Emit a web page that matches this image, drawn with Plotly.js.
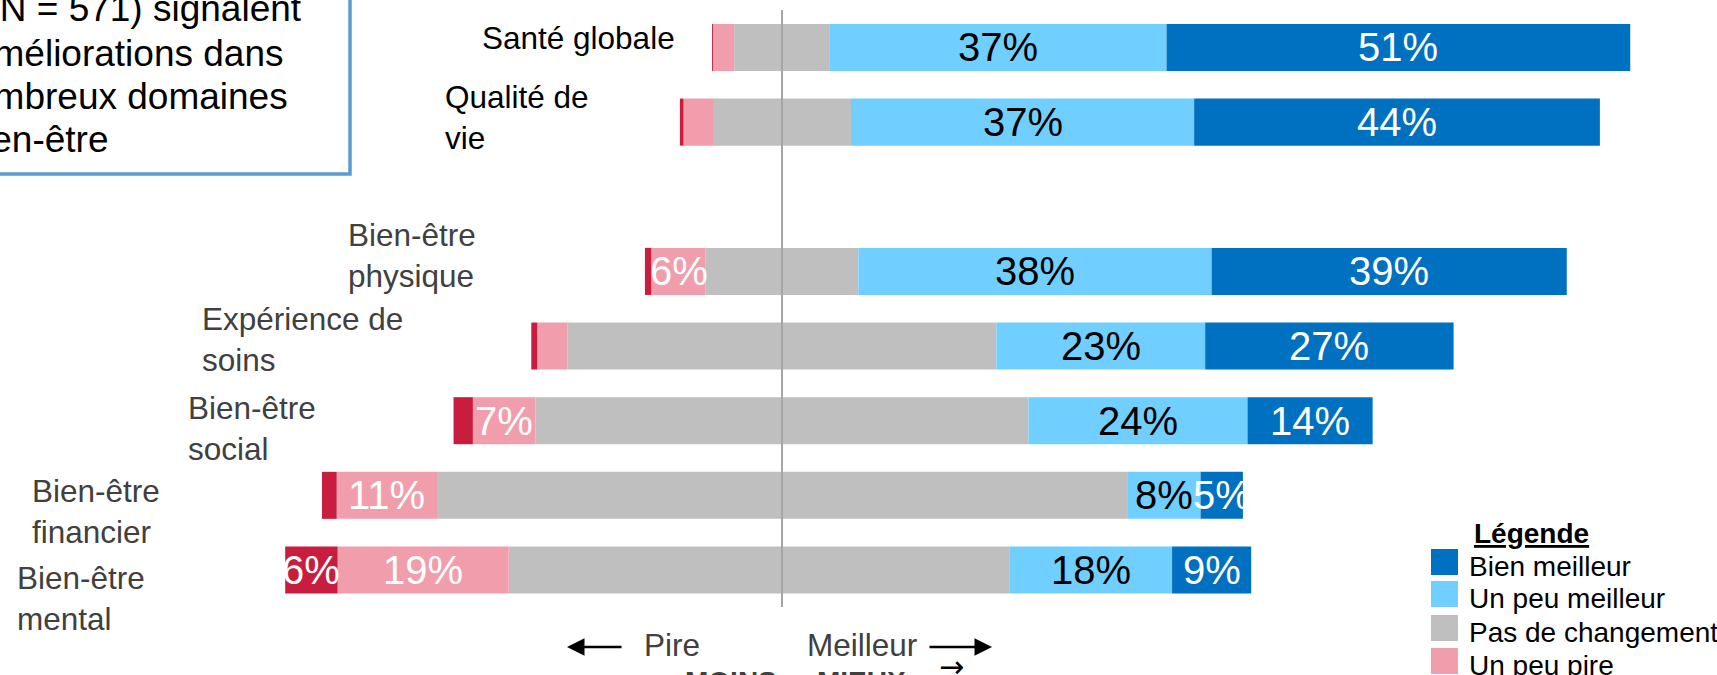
<!DOCTYPE html>
<html>
<head>
<meta charset="utf-8">
<script src="https://cdn.plot.ly/plotly-3.0.1.min.js"></script>
<style>html,body{margin:0;padding:0;background:#fff;}#chart{width:1717px;height:675px;}</style>
</head>
<body>
<div id="chart"></div>
<script>
// ---- Data (% of respondents) ----
const categories = ['Santé globale','Qualité de vie','Bien-être physique','Expérience de soins','Bien-être social','Bien-être financier','Bien-être mental'];
const categoryLabels = ['Santé globale','Qualité de<br>vie','Bien-être<br>physique','Expérience de<br>soins','Bien-être<br>social','Bien-être<br>financier','Bien-être<br>mental'];
const seriesNames = ['Bien meilleur','Un peu meilleur','Pas de changement','Un peu pire','Bien pire'];

const muchBetter     = [50.4, 44.1, 38.6, 27.0, 13.6, 4.6, 8.6];
const slightlyBetter = [36.6, 37.3, 38.4, 22.7, 23.8, 7.9, 17.7];
const noChangeRight  = [5.2, 7.5, 8.3, 23.3, 26.8, 37.6, 24.7];   // part of "Pas de changement" right of 0
const noChangeLeft   = [5.2, 7.5, 8.3, 23.3, 26.8, 37.5, 29.7];   // part of "Pas de changement" left of 0
const slightlyWorse  = [2.3, 3.2, 5.9, 3.3, 6.8, 10.9, 18.6];
const muchWorse      = [0.1, 0.4, 0.7, 0.65, 2.1, 1.6, 5.7];

const muchBetterLbl     = ['51%','44%','39%','27%','14%','5%','9%'];
const slightlyBetterLbl = ['37%','37%','38%','23%','24%','8%','18%'];
const slightlyWorseLbl  = ['','','6%','','7%','11%','19%'];
const muchWorseLbl      = ['','','','','','','6%'];

// ---- Styles ----
const colors = {much:'#0070C0', slight:'#71CFFF', none:'#BFBFBF', sworse:'#F19EAC', mworse:'#C81D3F'};
const W = 1717, H = 675;
const FONT = 'Liberation Sans, Arial, sans-serif';
const px = x => x / W;
const py = y => 1 - y / H;
const yOrder = [categories[0], categories[1], ' ', ...categories.slice(2)];

const barCommon = {type:'bar', orientation:'h', y:categories, width:0.63, hoverinfo:'skip', textposition:'none'};
const neg = a => a.map(v => -v);
const traces = [
  Object.assign({}, barCommon, {name:seriesNames[2], x:neg(noChangeLeft), marker:{color:colors.none}}),
  Object.assign({}, barCommon, {name:seriesNames[3], x:neg(slightlyWorse), marker:{color:colors.sworse}}),
  Object.assign({}, barCommon, {name:seriesNames[4], x:neg(muchWorse), marker:{color:colors.mworse}}),
  Object.assign({}, barCommon, {name:seriesNames[2], x:noChangeRight, marker:{color:colors.none}}),
  Object.assign({}, barCommon, {name:seriesNames[1], x:slightlyBetter, marker:{color:colors.slight}}),
  Object.assign({}, barCommon, {name:seriesNames[0], x:muchBetter, marker:{color:colors.much}})
];

const annotations = [];
// data labels at segment centres
categories.forEach((c, i) => {
  const lb = noChangeRight[i] + slightlyBetter[i] / 2;
  const db = noChangeRight[i] + slightlyBetter[i] + muchBetter[i] / 2;
  const pk = -(noChangeLeft[i] + slightlyWorse[i] / 2);
  const dr = -(noChangeLeft[i] + slightlyWorse[i] + muchWorse[i] / 2);
  const add = (x, t, col) => { if (t) annotations.push({xref:'x', yref:'y', x:x, y:c, text:t, showarrow:false, xanchor:'center', yanchor:'middle', font:{family:FONT, size:40, color:col}}); };
  add(lb, slightlyBetterLbl[i], '#000000');
  add(db, muchBetterLbl[i], '#FFFFFF');
  add(pk, slightlyWorseLbl[i], '#FFFFFF');
  add(dr, muchWorseLbl[i], '#FFFFFF');
});

// category labels (placement as in the slide)
const labelX = [677, 443, 346, 200, 186, 30, 15];
const labelY = [38, 117, 255, 340, 428, 511, 598];
const labelCol = ['#000000', '#000000', '#404040', '#404040', '#404040', '#404040', '#404040'];
categoryLabels.forEach((t, i) => {
  annotations.push({xref:'paper', yref:'paper', x:px(labelX[i]), y:py(labelY[i]), text:t, showarrow:false,
    xanchor: i === 0 ? 'right' : 'left', yanchor:'middle', align:'left',
    font:{family:FONT, size:31.5, color:labelCol[i]}});
});

// bottom direction indicators
annotations.push({xref:'paper', yref:'paper', x:px(642), y:py(645), text:'Pire', showarrow:false, xanchor:'left', yanchor:'middle', font:{family:FONT, size:31.5, color:'#404040'}});
annotations.push({xref:'paper', yref:'paper', x:px(805), y:py(645), text:'Meilleur', showarrow:false, xanchor:'left', yanchor:'middle', font:{family:FONT, size:31.5, color:'#404040'}});
annotations.push({xref:'paper', yref:'paper', x:px(567), y:py(647), text:'', showarrow:true, ax:56, ay:0, arrowhead:2, arrowsize:1.4, arrowwidth:2.5, arrowcolor:'#000000'});
annotations.push({xref:'paper', yref:'paper', x:px(992), y:py(647), text:'', showarrow:true, ax:-64, ay:0, arrowhead:2, arrowsize:1.4, arrowwidth:2.5, arrowcolor:'#000000'});
annotations.push({xref:'paper', yref:'paper', x:px(951), y:py(666), text:'→', showarrow:false, xanchor:'center', yanchor:'middle', font:{family:'DejaVu Sans, sans-serif', size:30, color:'#000000'}});
annotations.push({xref:'paper', yref:'paper', x:px(731), y:py(664), text:'<b>MOINS</b>', showarrow:false, xanchor:'center', yanchor:'top', font:{family:FONT, size:28, color:'#404040'}});
annotations.push({xref:'paper', yref:'paper', x:px(861), y:py(664), text:'<b>MIEUX</b>', showarrow:false, xanchor:'center', yanchor:'top', font:{family:FONT, size:28, color:'#404040'}});

// top-left text box (cut by the slide edge)
const boxLines = ['Les participants (N = 571) signalent', 'des améliorations dans', 'de nombreux domaines', 'du bien-être'];
const boxRight = [304, 286, 290, 110];
const boxY = [9, 53, 96, 139];
boxLines.forEach((t, i) => {
  annotations.push({xref:'paper', yref:'paper', x:px(boxRight[i]), y:py(boxY[i]), text:t, showarrow:false, xanchor:'right', yanchor:'middle', font:{family:FONT, size:37, color:'#000000'}});
});

// custom legend
annotations.push({xref:'paper', yref:'paper', x:px(1531), y:py(533), text:'<b><u>Légende</u></b>', showarrow:false, xanchor:'center', yanchor:'middle', font:{family:FONT, size:28, color:'#000000'}});
const legColors = [colors.much, colors.slight, colors.none, colors.sworse, colors.mworse];
const legY = [562, 594, 628, 661, 694];
const shapes = [
  {type:'line', xref:'x', yref:'paper', x0:0, x1:0, y0:py(607), y1:py(10), line:{color:'#A6A6A6', width:2}, layer:'above'},
  {type:'rect', xref:'paper', yref:'paper', x0:px(-20), x1:px(350), y0:py(174), y1:py(-20), line:{color:'#5B9BD5', width:3.5}, fillcolor:'rgba(0,0,0,0)', layer:'above'}
];
seriesNames.forEach((n, i) => {
  shapes.push({type:'rect', xref:'paper', yref:'paper', x0:px(1431), x1:px(1458), y0:py(legY[i] + 13), y1:py(legY[i] - 13), line:{width:0}, fillcolor:legColors[i]});
  annotations.push({xref:'paper', yref:'paper', x:px(1467), y:py(legY[i] + 4), text:n, showarrow:false, xanchor:'left', yanchor:'middle', font:{family:FONT, size:28, color:'#000000'}});
});

const layout = {
  width: W, height: H,
  margin:{l:0, r:0, t:0, b:0, pad:0},
  paper_bgcolor:'#FFFFFF', plot_bgcolor:'#FFFFFF',
  barmode:'relative', showlegend:false,
  font:{family:FONT},
  xaxis:{range:[-85.0, 101.63], visible:false, fixedrange:true},
  yaxis:{type:'category', categoryorder:'array', categoryarray:yOrder, range:[8.407, -0.636], visible:false, fixedrange:true},
  annotations: annotations,
  shapes: shapes
};
Plotly.newPlot('chart', traces, layout, {displayModeBar:false, staticPlot:true});
</script>
</body>
</html>
